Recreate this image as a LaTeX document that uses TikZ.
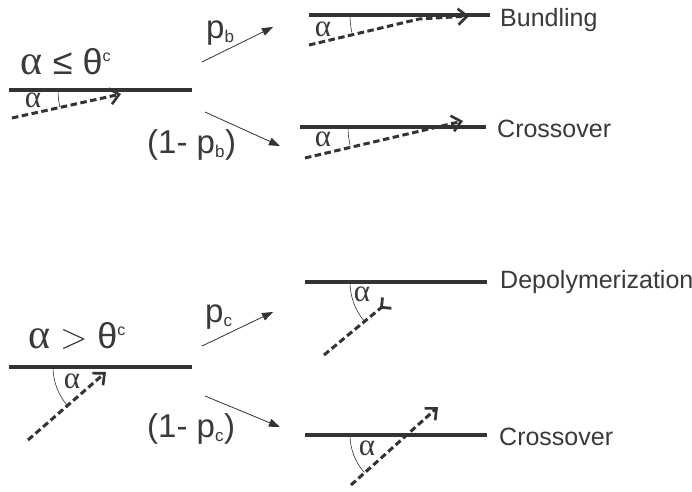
\RequirePackage{fix-cm}
\documentclass[tikz,border=0pt]{standalone}
\usepackage{fontspec}
\setmainfont{Liberation Sans}
\newfontfamily\grk{Liberation Serif}
\usetikzlibrary{arrows.meta}
\definecolor{ink}{HTML}{333333}
\definecolor{txt}{HTML}{3A3A3A}
\begin{document}
\begin{tikzpicture}[x=1pt,y=-1pt,
  filament/.style={line width=3.3pt, draw=ink},
  mt/.style={line width=3pt, draw=ink, dash pattern=on 6.5pt off 3.5pt},
  openhead/.style={-{Straight Barb[length=9pt,width=16pt,line width=2.6pt]}},
  revhead/.style={-{Straight Barb[reversed,length=7pt,width=14pt,line width=2.8pt]}},
  prob/.style={line width=0.8pt, draw=ink, -{Triangle[length=11pt,width=8pt]}},
  anglearc/.style={line width=0.6pt, draw=ink},
  cond/.style={font=\fontsize{36}{42}\selectfont, text=txt, inner sep=0pt},
  plab/.style={font=\fontsize{33}{38}\selectfont, text=txt, inner sep=0pt, anchor=base west},
  outcome/.style={font=\fontsize{25}{30}\selectfont, text=txt, inner sep=0pt, anchor=base west},
  alab/.style={font=\grk\fontsize{31}{33}\selectfont, text=txt, inner sep=0pt},
]
\fill[white] (0,0) rectangle (692,491);
\useasboundingbox (0,0) rectangle (692,491);

% ---------- top-left: alpha <= theta^c ----------
\node[cond] (condA) at (66,62) {{\grk\fontsize{42}{42}\selectfont α} ≤ θ\textsuperscript{\fontsize{16}{16}\selectfont c}};
\coordinate (fA1) at (9,90);
\coordinate (fA2) at (192,90);
\draw[filament] (fA1) -- (fA2);
\coordinate (mA1) at (12,118);
\coordinate (mA2) at (121,94);
\draw[mt, openhead] (mA1) -- (mA2);
\draw[anglearc] (58,90) arc[start angle=180, end angle=167.5, radius=80];
\node[alab] (aA) at (33,100) {α};

% probability arrows (top)
\coordinate (pb1) at (202,62);
\coordinate (pb2) at (273,27);
\draw[prob] (pb1) -- (pb2);
\node[plab] (lpb) at (206,38) {p\textsubscript{\fontsize{17}{17}\selectfont b}};
\coordinate (qb1) at (205,112);
\coordinate (qb2) at (280,146);
\draw[prob] (qb1) -- (qb2);
\node[plab] (lqb) at (147,153) {(1- p\textsubscript{\fontsize{17}{17}\selectfont b})};

% ---------- bundling ----------
\coordinate (fB1) at (309,15);
\coordinate (fB2) at (490,15);
\draw[filament] (fB1) -- (fB2);
\coordinate (mB1) at (309,45);
\coordinate (mB2) at (419,19);
\coordinate (mB3) at (469,16);
\draw[mt, openhead] (mB1) -- (mB2) -- (mB3);
\draw[anglearc] (350,15) arc[start angle=180, end angle=167.8, radius=82];
\node[alab] (aB) at (323,29) {α};
\node[outcome] (oB) at (500,26) {Bundling};

% ---------- crossover (top) ----------
\coordinate (fC1) at (300,127);
\coordinate (fC2) at (486,127);
\draw[filament] (fC1) -- (fC2);
\coordinate (mC1) at (305,158);
\coordinate (mC2) at (463,121);
\draw[mt, openhead] (mC1) -- (mC2);
\draw[anglearc] (348,127) arc[start angle=180, end angle=166.8, radius=80];
\node[alab] (aC) at (323,139) {α};
\node[outcome] (oC) at (497,137) {Crossover};

% ---------- bottom-left: alpha > theta^c ----------
\node[cond] (condB) at (77,336) {{\grk\fontsize{42}{42}\selectfont α} $>$ θ\textsuperscript{\fontsize{16}{16}\selectfont c}};
\coordinate (fD1) at (9,367);
\coordinate (fD2) at (192,367);
\draw[filament] (fD1) -- (fD2);
\coordinate (mD1) at (28,440);
\coordinate (mD2) at (106,372);
\draw[mt, openhead] (mD1) -- (mD2);
\draw[anglearc] (53,367) arc[start angle=180, end angle=139, radius=59];
\node[alab] (aD) at (72,381) {α};

% probability arrows (bottom)
\coordinate (pc1) at (202,346);
\coordinate (pc2) at (273,312);
\draw[prob] (pc1) -- (pc2);
\node[plab] (lpc) at (205,322) {p\textsubscript{\fontsize{17}{17}\selectfont c}};
\coordinate (qc1) at (205,396);
\coordinate (qc2) at (280,427);
\draw[prob] (qc1) -- (qc2);
\node[plab] (lqc) at (147,437) {(1- p\textsubscript{\fontsize{17}{17}\selectfont c})};

% ---------- depolymerization ----------
\coordinate (fE1) at (305,282);
\coordinate (fE2) at (487,282);
\draw[filament] (fE1) -- (fE2);
\coordinate (mE1) at (324,355);
\coordinate (mE2) at (388,302);
\draw[mt, revhead] (mE1) -- (mE2);
\draw[anglearc] (350,282) arc[start angle=180, end angle=140, radius=61];
\node[alab] (aE) at (362,294) {α};
\node[outcome] (oE) at (500,288) {Depolymerization};

% ---------- crossover (bottom) ----------
\coordinate (fF1) at (305,435);
\coordinate (fF2) at (487,435);
\draw[filament] (fF1) -- (fF2);
\coordinate (mF1) at (351,485);
\coordinate (mF2) at (438,407);
\draw[mt, openhead] (mF1) -- (mF2);
\draw[anglearc] (350,435) arc[start angle=180, end angle=138, radius=56];
\node[alab] (aF) at (367,448) {α};
\node[outcome] (oF) at (499,445) {Crossover};
\end{tikzpicture}
\end{document}
